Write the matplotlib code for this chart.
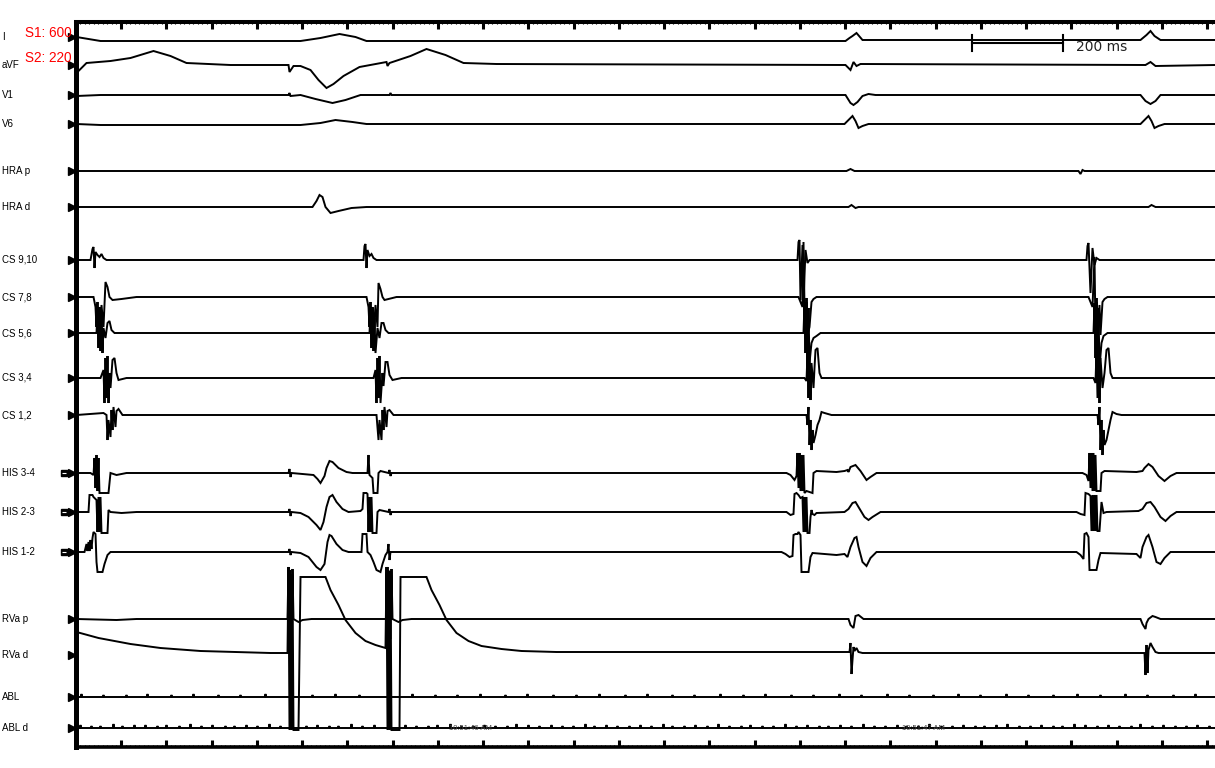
import matplotlib
matplotlib.use("Agg")
import matplotlib.pyplot as plt
from matplotlib import transforms

# sweep speed: one sample per screen column, 45.25 samples = 100 ms
MS100 = 45.25
FIRST_TICK = 44.5
N_SAMPLES = 1139

LABELS = ["I", "aVF", "V1", "V6", "HRA p", "HRA d", "CS 9,10", "CS 7,8", "CS 5,6",
          "CS 3,4", "CS 1,2", "HIS 3-4", "HIS 2-3", "HIS 1-2", "RVa p", "RVa d",
          "ABL", "ABL d"]

# (sample, amplitude) breakpoints for each channel, amplitude up = positive
I_T = [0, 24, 224, 244, 263, 279, 290, 769, 773, 776, 780, 786, 1064, 1070, 1074, 1078, 1084, 1139]
I_V = [0, -4, -4, -1, 3, 0, -4, -4, -1, 1, 4, -3, -3, 2, 6, 1, -3, -3]

AVF_T = [0, 10, 34, 54, 77, 94, 110, 154, 212, 213, 215, 217, 224, 234, 242, 250, 257, 267, 283,
         310, 311, 313, 316, 334, 350, 369, 387, 420, 769, 774, 777, 780, 784, 1069, 1074, 1079, 1139]
AVF_V = [-8, 2, 4, 7, 14, 9, 2, 0, 0, -7, -4, -1, -1, -5, -15, -23, -19, -11, -2,
         3, -1, 2, 3, 9, 16, 10, 2, 1, 0, -5, 3, -1, 1, 0, 3, -1, 0]

V1_T = [0, 24, 212, 213, 214, 224, 239, 256, 269, 284, 313, 314, 315, 769, 774, 777, 781, 786,
        792, 799, 1064, 1069, 1074, 1079, 1084, 1139]
V1_V = [-1, 0, 0, 2, -1, 0, -4, -8, -5, 0, 0, 2, 0, 0, -8, -10, -7, -1, 1, 0, 0, -6, -9, -6, 0, 0]

V6_T = [0, 24, 224, 244, 259, 276, 290, 768, 772, 776, 779, 782, 786, 792, 1064, 1068, 1072,
        1075, 1078, 1082, 1088, 1139]
V6_V = [0, -1, -1, 1, 4, 2, 0, 0, 4, 8, 3, -4, -2, 0, 0, 4, 8, 3, -4, -2, 0, 0]

HRAP_T = [0, 770, 774, 778, 1002, 1004, 1006, 1008, 1139]
HRAP_V = [0, 0, 2, 0, 0, -3, 1, 0, 0]

HRAD_T = [0, 236, 240, 243, 246, 249, 254, 262, 275, 290, 772, 775, 779, 782, 1072, 1075, 1079, 1139]
HRAD_V = [0, 0, 6, 12, 10, 0, -6, -4, -1, 0, 0, 2, -1, 0, 0, 2, 0, 0]

CS910_T = [0, 14, 16, 17, 18, 19, 21, 23, 25, 27, 30, 287, 288, 289, 290, 291, 293, 295, 297, 300,
           721, 722, 723, 724, 726, 727, 729, 731, 733, 1010, 1011, 1012, 1014, 1016, 1018, 1020,
           1023, 1139]
CS910_V = [0, 0, 11, 13, -8, 8, 5, 3, 6, 2, 0, 0, 14, 16, -8, 10, 4, 6, 2, 0,
           0, 18, 20, -40, 15, -42, 10, -3, 0, 0, 14, 17, -33, 12, -5, 2, 0, 0]

CS78_T = [0, 17, 19, 20, 21, 22, 23, 24, 25, 27, 29, 31, 33, 36, 45, 60,
          290, 292, 293, 294, 295, 296, 297, 299, 301, 302, 304, 306, 308, 320,
          722, 724, 726, 727, 728, 729, 730, 731, 733, 735, 737, 740,
          1012, 1014, 1016, 1018, 1019, 1020, 1021, 1023, 1024, 1026, 1028, 1031, 1139]
CS78_V = [0, 0, -10, -30, -5, -35, -10, -38, -8, -30, 15, 10, 0, -3, -2, 0,
          0, -10, -30, -5, -35, -10, -38, -8, -30, 14, 8, 0, -3, 0,
          0, -5, -10, 55, -10, -35, -5, -38, -30, -5, -2, 0,
          0, -5, -10, 40, -35, -5, -40, -8, -38, -5, -2, 0, 0]

CS56_T = [0, 20, 21, 22, 23, 24, 25, 26, 27, 29, 31, 33, 35, 38,
          293, 294, 295, 296, 297, 298, 299, 301, 303, 305, 307, 309, 312,
          727, 728, 729, 730, 731, 732, 733, 735, 737, 740, 744,
          1017, 1018, 1019, 1020, 1021, 1022, 1023, 1025, 1027, 1031, 1139]
CS56_V = [0, 0, 20, -15, 25, -18, 15, -20, 5, -5, 10, 12, 3, 0,
          0, 20, -15, 25, -18, 15, -20, 5, -5, 10, 10, 3, 0,
          0, 30, -20, 35, -25, 25, -30, -10, -5, -3, 0,
          0, 30, -25, 35, -30, 25, -35, -10, -3, 0, 0]

CS34_T = [0, 24, 27, 28, 29, 30, 31, 32, 33, 34, 36, 38, 40, 42, 50,
          297, 299, 300, 301, 302, 303, 304, 306, 307, 309, 311, 313, 316, 325,
          728, 730, 731, 732, 733, 734, 735, 737, 738, 739, 741, 743, 745,
          1017, 1019, 1020, 1021, 1022, 1023, 1024, 1026, 1028, 1030, 1032, 1034, 1036, 1139]
CS34_V = [0, 0, 8, -25, 20, -20, 22, -25, 5, -10, 18, 20, 5, -2, 0,
          0, 8, -25, 20, -20, 22, -25, 5, -8, 16, 16, 3, -2, 0,
          0, -3, 25, -20, 28, -22, 15, -10, 10, 28, 30, 5, 0,
          0, -5, 28, -20, 30, -25, 20, -10, 5, 28, 30, 5, 0, 0]

CS12_T = [0, 27, 30, 31, 32, 34, 35, 36, 37, 39, 40, 42, 46,
          300, 302, 303, 305, 306, 307, 308, 310, 311, 313, 317,
          730, 731, 732, 733, 734, 735, 736, 737, 739, 741, 743, 745, 748, 755,
          1021, 1022, 1023, 1024, 1025, 1026, 1027, 1028, 1030, 1032, 1034, 1036, 1040, 1045, 1139]
CS12_V = [0, 2, 0, -25, -5, -22, 5, -15, 8, -12, 4, 6, 0,
          0, -25, -5, -25, 5, -15, 8, -12, 4, 5, 0,
          0, -10, 8, -30, -5, -35, -15, -28, -20, -10, -5, 3, 2, 0,
          0, -10, 8, -35, -5, -40, -15, -30, -25, -15, -5, 3, 1, 0, 0]

HIS34_T = [0, 14, 17, 18, 19, 20, 21, 22, 23, 25, 30, 32, 34, 40, 50,
           212, 213, 214, 215, 237, 241, 244, 248, 250, 253, 256, 262, 270, 276,
           291, 292, 293, 296, 297, 301, 302, 304, 312, 313, 314, 315,
           710, 714, 718, 720, 721, 722, 723, 724, 725, 726, 727, 728, 730, 736, 737, 740, 760,
           768, 771, 772, 774, 779, 784, 790, 794, 800,
           1006, 1010, 1012, 1013, 1014, 1015, 1016, 1017, 1018, 1019, 1020, 1024, 1025, 1028,
           1060, 1066, 1068, 1072, 1076, 1082, 1088, 1094, 1100, 1139]
HIS34_V = [0, 0, -2, 15, -15, 18, -18, 15, -20, -20, -20, -20, 0, -2, 0,
           0, 4, -4, 0, -2, -6, -10, -3, 5, 12, 11, 5, 1, 0,
           0, 18, -2, -5, -20, -20, 0, 2, 0, 3, -3, 0,
           0, -2, -7, -3, 20, -15, 20, -18, 18, -18, 18, -20, -18, -20, 0, 2, 1,
           2, 3, 1, 6, 8, 2, -7, -4, 0,
           0, -2, -8, 20, -15, 20, -18, 20, -18, 18, -18, -18, 0, 2,
           1, 2, 5, 9, 6, -3, -8, -3, 0, 0]

HIS23_T = [0, 12, 13, 16, 17, 20, 21, 22, 23, 24, 25, 28, 31, 32, 34, 45, 60,
           212, 213, 214, 215, 224, 232, 240, 244, 247, 250, 253, 256, 260, 266, 272,
           284, 286, 287, 290, 291, 292, 293, 294, 295, 296, 300, 301, 303, 312, 313, 314, 315,
           710, 714, 717, 718, 720, 722, 724, 726, 727, 728, 729, 730, 731, 733, 734, 735, 736,
           738, 740, 768, 772, 776, 779, 782, 788, 792, 796, 804,
           1000, 1004, 1008, 1009, 1012, 1014, 1015, 1016, 1017, 1018, 1019, 1020, 1021, 1023,
           1025, 1027, 1030, 1062, 1066, 1070, 1074, 1078, 1084, 1089, 1094, 1100, 1139]
HIS23_V = [0, 0, 17, 17, 15, 12, -20, 15, -20, 15, -21, -21, -21, 2, 0, -1, 0,
           0, 3, -4, 0, -1, -5, -13, -18, -10, 5, 15, 17, 10, 3, 0,
           1, 3, 19, 19, 18, -20, 15, -20, 15, -21, -21, 0, 2, 0, 3, -3, 0,
           0, -3, -2, 18, 19, 17, 14, 15, -20, 15, -20, 15, -21, -21, -5, 2, -2,
           -3, -1, 0, 3, 9, 10, 5, -5, -8, -5, 0,
           0, -2, -3, 19, 18, 16, -19, 17, -19, 17, -19, 17, -19, -19,
           10, -1, 0, 1, 3, 9, 10, 5, -5, -9, -4, 0, 0]

HIS12_T = [0, 8, 10, 11, 12, 13, 14, 15, 16, 17, 19, 20, 21, 24, 26, 28, 31, 34, 50,
           212, 213, 214, 215, 224, 232, 240, 244, 248, 251, 253, 255, 260, 266, 272,
           285, 286, 290, 291, 294, 297, 300, 304, 306, 309, 311, 312, 313, 314,
           705, 709, 713, 716, 717, 719, 721, 722, 724, 725, 728, 732, 734, 736,
           760, 768, 771, 774, 778, 780, 782, 786, 790, 794, 800,
           1000, 1004, 1007, 1008, 1010, 1012, 1013, 1016, 1020, 1022, 1024,
           1060, 1064, 1066, 1070, 1072, 1076, 1080, 1084, 1088, 1094, 1139]
HIS12_V = [0, 0, 8, 1, 10, 1, 12, 3, 14, 20, 18, -10, -20, -20, -20, -12, -3, 0, 0,
           0, 3, -3, 0, -1, -5, -15, -18, -12, 10, 17, 16, 8, 2, 0,
           0, 18, 18, 0, -3, -10, -18, -20, -12, -3, 0, 8, -8, 0,
           0, -2, -5, -4, 17, 18, 18, 20, 17, -20, -20, -20, -5, -1,
           -3, -2, -5, 5, 14, 15, 5, -10, -14, -6, 0,
           0, -3, -7, 18, 19, 15, -18, -18, -18, -8, -1,
           -2, -6, 5, 15, 17, 5, -10, -12, -6, 0, 0]

RVAP_T = [0, 40, 60, 211, 212, 213, 214, 215, 216, 217, 222, 226, 235,
          310, 311, 312, 313, 314, 315, 316, 322, 326, 335,
          772, 774, 777, 779, 782, 787, 1064, 1066, 1069, 1070, 1072, 1076, 1079, 1084, 1139]
RVAP_V = [0, -1, 0, 0, 52, -30, 45, -20, 50, 0, -3, -1, 0,
          0, 52, -30, 48, -20, 50, 0, -3, -1, 0,
          0, -6, -9, 3, 4, 0, 0, -5, -10, -4, 0, 3, 2, 0, 0]

RVAD_T = [0, 22, 54, 84, 124, 194, 211, 212, 213, 214, 215, 216, 217, 222, 224,
          249, 254, 262, 269, 279, 289, 299, 309, 310, 311, 312, 313, 314, 315, 323, 324,
          350, 355, 363, 370, 380, 392, 405, 425, 445, 480,
          773, 774, 775, 776, 777, 778, 780, 782, 786,
          1068, 1069, 1070, 1071, 1072, 1074, 1076, 1079, 1082, 1139]
RVAD_V = [23, 17, 11, 7, 4, 2, 2, 88, -75, 85, -75, 80, -75, -75, 78,
          78, 65, 50, 35, 22, 14, 10, 7, 88, -75, 85, -75, 80, -75, -75, 78,
          78, 65, 50, 35, 22, 14, 9, 6, 4, 3,
          3, 12, -19, -5, 8, 4, 7, 3, 2,
          2, -20, 10, -18, 5, 12, 8, 3, 2, 2]

ABL_T = [0, 1139]
ABL_V = [0, 0]
ABL_SPK_T = [5, 27, 50, 71, 95, 117, 142, 164, 189, 236, 259, 283, 336, 359, 381, 404, 429, 451,
             477, 500, 523, 549, 571, 596, 618, 644, 667, 689, 715, 737, 763, 785, 811, 833, 857,
             882, 904, 930, 952, 977, 1001, 1024, 1049, 1071, 1097, 1119]
ABL_SPK_H = [3, 2, 2, 3, 2, 3, 2, 2, 3, 2, 3, 2, 3, 2, 2, 3, 2, 3, 2, 2, 3, 2, 3,
             2, 2, 3, 2, 3, 2, 2, 3, 2, 3, 2, 2, 3, 2, 3, 2, 2, 3, 2, 3, 2, 2, 3]

ABLD_T = [0, 1139]
ABLD_V = [0, 0]
ABLD_SPK_T = [4, 15, 24, 37, 46, 58, 69, 81, 90, 103, 114, 125, 136, 149, 158, 170, 181, 193, 204,
              230, 241, 253, 262, 275, 286, 298, 329, 340, 352, 361, 374, 385, 397, 408, 419, 431,
              440, 452, 463, 475, 486, 497, 509, 518, 530, 541, 553, 564, 575, 587, 596, 608, 619,
              631, 642, 653, 665, 674, 686, 697, 709, 720, 731, 743, 752, 764, 775, 787, 798, 809,
              821, 830, 842, 853, 865, 876, 887, 899, 908, 920, 931, 943, 954, 965, 977, 986, 998,
              1009, 1021, 1032, 1043, 1055, 1064, 1076, 1087, 1099, 1110, 1121, 1133]
ABLD_SPK_H = [3, 2, 2, 4, 2, 3, 3, 2, 3, 2, 4, 2, 3, 2, 2, 3, 2, 4, 2, 2, 3, 2, 2, 4, 2, 3, 3, 2,
              2, 3, 4, 2, 2, 3, 2, 2, 4, 3, 2, 3, 2, 2, 4, 2, 3, 2, 2, 3, 2, 4, 2, 2, 3, 2, 4, 2,
              2, 3, 2, 2, 4, 2, 3, 2, 2, 3, 2, 4, 2, 2, 3, 2, 2, 4, 2, 2, 3, 2, 2, 3, 4, 2, 2, 3,
              2, 2, 4, 3, 2, 3, 2, 2, 4, 2, 3, 2, 2, 3, 2]

TIMESTAMPS = ["10:51:46 AM", "10:51:47 AM"]
TIMESTAMP_AT = [394, 847]
S_TEXT = ["S1: 600", "S2: 220"]


def with_spikes(t, v, spk_t, spk_h):
    pts = list(zip(t, v))
    for s, h in zip(spk_t, spk_h):
        pts += [(s - 0.7, 0), (s, h), (s + 0.7, 0)]
    pts.sort()
    return [p[0] for p in pts], [p[1] for p in pts]


CHANNELS = [(I_T, I_V), (AVF_T, AVF_V), (V1_T, V1_V), (V6_T, V6_V), (HRAP_T, HRAP_V),
            (HRAD_T, HRAD_V), (CS910_T, CS910_V), (CS78_T, CS78_V), (CS56_T, CS56_V),
            (CS34_T, CS34_V), (CS12_T, CS12_V), (HIS34_T, HIS34_V), (HIS23_T, HIS23_V),
            (HIS12_T, HIS12_V), (RVAP_T, RVAP_V), (RVAD_T, RVAD_V),
            with_spikes(ABL_T, ABL_V, ABL_SPK_T, ABL_SPK_H),
            with_spikes(ABLD_T, ABLD_V, ABLD_SPK_T, ABLD_SPK_H)]

# screen rows (pixels from top) of every channel baseline / label
ROWS = [37, 65, 95, 124, 171, 207, 260, 297, 333, 378, 415, 473, 512, 552, 619, 655, 697, 728]

W, H = 1215, 768
fig = plt.figure(figsize=(W / 100, H / 100), dpi=100)
left, top, bottom = 76.5, 22, 746.5
ax = fig.add_axes([left / W, 1 - bottom / H, 1 - left / W, (bottom - top) / H])

for (t, v), row in zip(CHANNELS, ROWS):
    ax.plot(t, [row - a for a in v], color="black", lw=1.4, solid_joinstyle="miter")

# frame
ax.spines["right"].set_visible(False)
ax.spines["left"].set_linewidth(3.6)
ax.spines["top"].set_linewidth(2.9)
ax.spines["bottom"].set_linewidth(2.6)
major = [FIRST_TICK + MS100 * k for k in range(26)]
minor = [FIRST_TICK % (MS100 / 10) + MS100 / 10 * k for k in range(252)]
ax.set_xticks(major)
ax.set_xticks(minor, minor=True)
ax.set_yticks([])
ax.tick_params(axis="x", which="both", direction="in", top=True, bottom=True,
               labelbottom=False, color="black")
ax.tick_params(axis="x", which="major", length=5, width=2.2)
ax.tick_params(axis="x", which="minor", length=1.6, width=0.8)
# limits last, set_xticks would widen them
ax.set_xlim(0, W - left)
ax.set_ylim(bottom, top)

# channel labels and markers
blend = transforms.blended_transform_factory(fig.transFigure, ax.transData)
for name, row in zip(LABELS, ROWS):
    ax.text(2 / W, row, name, transform=blend, fontsize=7, va="center", ha="left",
            family="Liberation Sans")
    ax.plot(-4.5, row, marker=">", ms=6, color="black", clip_on=False, zorder=5)
    if name.startswith("HIS"):
        ax.plot(-12, row, marker="s", ms=5, color="black", clip_on=False, zorder=5)
        ax.plot(-12, row, marker="_", ms=3, mew=0.8, color="white", clip_on=False, zorder=6)

# stimulation protocol
for i, s in enumerate(S_TEXT):
    fig.text(25 / W, 1 - (33 + 25.5 * i) / H, s, color="#ff0000", fontsize=9.8,
             va="center", ha="left", family="Liberation Sans")

# 200 ms calibration bar
bar_x0 = 972 - left
ax.plot([bar_x0, bar_x0 + 2 * MS100], [42.5, 42.5], color="black", lw=1.5)
ax.plot([bar_x0, bar_x0], [35, 51], color="black", lw=1.5)
ax.plot([bar_x0 + 2 * MS100] * 2, [35, 51], color="black", lw=1.5)
ax.text(bar_x0 + 2 * MS100 + 14, 47, "200 ms", fontsize=10, va="center", ha="left",
        color="#222222", family="DejaVu Sans")

for txt, s in zip(TIMESTAMPS, TIMESTAMP_AT):
    ax.text(s, 729, txt, fontsize=5.5, va="center", ha="center", color="#444444",
            family="Liberation Sans")

fig.savefig("out.png", dpi=100)
